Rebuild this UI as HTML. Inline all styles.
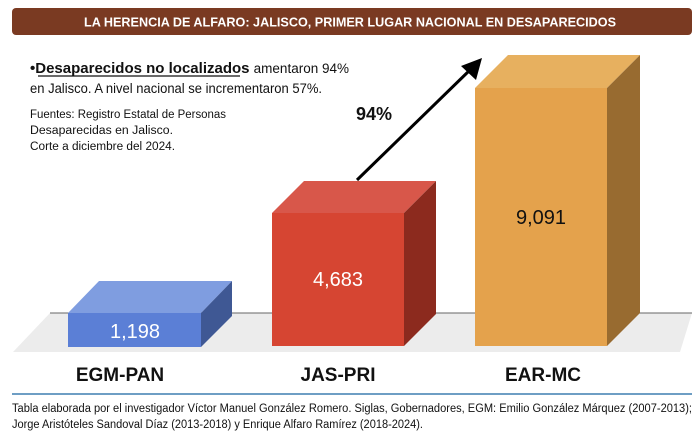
<!DOCTYPE html>
<html><head><meta charset="utf-8"><style>
html,body{margin:0;padding:0;background:#fff;}
svg{display:block;}
</style></head><body>
<svg width="700" height="440" viewBox="0 0 700 440" xmlns="http://www.w3.org/2000/svg" font-family="Liberation Sans, Arial, sans-serif">
<rect x="12" y="8" width="680" height="27" rx="4" fill="#7a3a22"/>
<text x="350" y="26.5" text-anchor="middle" fill="#fff" font-size="13" font-weight="bold" textLength="532" lengthAdjust="spacingAndGlyphs">LA HERENCIA DE ALFARO: JALISCO, PRIMER LUGAR NACIONAL EN DESAPARECIDOS</text>

<text x="30" y="73" font-size="15" fill="#111"><tspan font-weight="bold">•Desaparecidos no localizados </tspan><tspan font-size="13.5">amentaron 94%</tspan></text>
<line x1="38" y1="76" x2="240" y2="76" stroke="#111" stroke-width="1.2"/>
<text x="30" y="93" font-size="13.5" fill="#111" textLength="292" lengthAdjust="spacingAndGlyphs">en Jalisco. A nivel nacional se incrementaron 57%.</text>
<text x="30" y="118" font-size="11.5" fill="#111" textLength="196" lengthAdjust="spacingAndGlyphs">Fuentes: Registro Estatal de Personas</text>
<text x="30" y="134" font-size="11.5" fill="#111" textLength="143" lengthAdjust="spacingAndGlyphs">Desaparecidas en Jalisco.</text>
<text x="30" y="150" font-size="11.5" fill="#111" textLength="145" lengthAdjust="spacingAndGlyphs">Corte a diciembre del 2024.</text>

<polygon points="50,313 692,313 680,352 13,352" fill="#ececec"/>
<line x1="50" y1="313" x2="692" y2="313" stroke="#666" stroke-width="1"/>

<polygon points="68,313 99,281 232,281 201,313" fill="#7f9de0"/>
<polygon points="201,313 232,281 232,316 201,347" fill="#3f5894"/>
<rect x="68" y="313" width="133" height="34" fill="#5b7fd6"/>
<text x="135" y="338" text-anchor="middle" fill="#fff" font-size="20">1,198</text>

<polygon points="272,213 304,181 436,181 404,213" fill="#d8574a"/>
<polygon points="404,213 436,181 436,314 404,346" fill="#8c2a1e"/>
<rect x="272" y="213" width="132" height="133" fill="#d64532"/>
<text x="338" y="286" text-anchor="middle" fill="#fff" font-size="20">4,683</text>

<polygon points="475,88 508,55 640,55 607,88" fill="#e7b05f"/>
<polygon points="607,88 640,55 640,313 607,346" fill="#986b30"/>
<rect x="475" y="88" width="132" height="258" fill="#e4a24c"/>
<text x="541" y="224" text-anchor="middle" fill="#111" font-size="20">9,091</text>

<line x1="357" y1="180" x2="472" y2="68" stroke="#000" stroke-width="3"/>
<polygon points="482,58 476,80 461,66" fill="#000"/>
<text x="374" y="120" text-anchor="middle" font-size="18" font-weight="bold" fill="#111">94%</text>

<text x="120" y="381" text-anchor="middle" font-size="19" font-weight="bold" fill="#111">EGM-PAN</text>
<text x="338" y="381" text-anchor="middle" font-size="19" font-weight="bold" fill="#111">JAS-PRI</text>
<text x="543" y="381" text-anchor="middle" font-size="19" font-weight="bold" fill="#111">EAR-MC</text>

<line x1="12" y1="394" x2="692" y2="394" stroke="#3f7fb0" stroke-width="1.5"/>
<text x="12" y="412" font-size="11.5" fill="#111" textLength="680" lengthAdjust="spacingAndGlyphs">Tabla elaborada por el investigador Víctor Manuel González Romero. Siglas, Gobernadores, EGM: Emilio González Márquez (2007-2013);</text>
<text x="12" y="428" font-size="11.5" fill="#111" textLength="411" lengthAdjust="spacingAndGlyphs">Jorge Aristóteles Sandoval Díaz (2013-2018) y Enrique Alfaro Ramírez (2018-2024).</text>
</svg>
</body></html>
